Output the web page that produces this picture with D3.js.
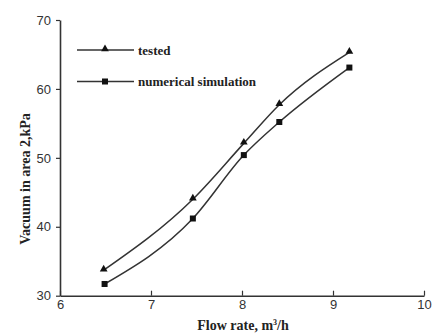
<!DOCTYPE html>
<html><head><meta charset="utf-8">
<script src="https://cdn.jsdelivr.net/npm/d3@7/dist/d3.min.js"></script>
<style>body{margin:0;background:#fff}svg{display:block}</style>
</head><body>
<svg id="c" width="437" height="333"></svg>
<script>
const flowTested = [6.48, 7.46, 8.02, 8.41, 9.18];
const vacTested  = [33.7, 44.0, 52.1, 57.7, 65.3];
const flowSim    = [6.49, 7.46, 8.02, 8.41, 9.18];
const vacSim     = [31.7, 41.2, 50.4, 55.2, 63.1];
const xTicks = [6, 7, 8, 9, 10];
const yTicks = [30, 40, 50, 60, 70];
const seriesNames = ["tested", "numerical simulation"];

const svg = d3.select("#c");
const x = d3.scaleLinear().domain([6, 10]).range([60, 424]);
const y = d3.scaleLinear().domain([30, 70]).range([295.7, 20]);
const col = "#333";

const xa = svg.append("g").attr("transform", "translate(0,295.7)")
  .call(d3.axisBottom(x).tickValues(xTicks).tickFormat(d3.format("d")).tickSizeInner(-5).tickSizeOuter(0).tickPadding(4));
const ya = svg.append("g").attr("transform", "translate(60,0)")
  .call(d3.axisLeft(y).tickValues(yTicks).tickFormat(d3.format("d")).tickSizeInner(4).tickSizeOuter(0).tickPadding(5));
[xa, ya].forEach(a => {
  a.select(".domain").attr("stroke", col).attr("stroke-width", 1.6);
  a.selectAll(".tick line").attr("stroke", col).attr("stroke-width", 1.2);
  a.selectAll("text").attr("font-family", "Liberation Sans, Arial, sans-serif").attr("font-size", 13).attr("fill", "#333");
});

const line = d3.line().x(d => x(d[0])).y(d => y(d[1])).curve(d3.curveMonotoneX);
const tData = flowTested.map((f, i) => [f, vacTested[i]]);
const sData = flowSim.map((f, i) => [f, vacSim[i]]);
[tData, sData].forEach(d => svg.append("path").datum(d).attr("d", line)
  .attr("fill", "none").attr("stroke", col).attr("stroke-width", 1.5));

const tri = d3.symbol().type(d3.symbolTriangle).size(26);
svg.selectAll(".tm").data(tData).enter().append("path")
  .attr("d", tri).attr("transform", d => `translate(${x(d[0])},${y(d[1]) - 1})`).attr("fill", "#111");
svg.selectAll(".sm").data(sData).enter().append("rect")
  .attr("x", d => x(d[0]) - 3).attr("y", d => y(d[1]) - 3).attr("width", 6).attr("height", 6).attr("fill", "#111");

// legend
const ly = [50, 81.5];
ly.forEach((yy, i) => {
  svg.append("line").attr("x1", 77).attr("x2", 134).attr("y1", yy).attr("y2", yy)
    .attr("stroke", col).attr("stroke-width", 1.5);
  if (i === 0) svg.append("path").attr("d", tri).attr("transform", `translate(105,${yy - 1})`).attr("fill", "#111");
  else svg.append("rect").attr("x", 102).attr("y", yy - 3).attr("width", 6).attr("height", 6).attr("fill", "#111");
  svg.append("text").attr("x", 138).attr("y", yy + 4.5).text(seriesNames[i])
    .attr("font-family", "Liberation Serif, Times New Roman, serif").attr("font-weight", "bold")
    .attr("font-size", 13).attr("fill", "#222");
});

svg.append("text").attr("x", 243).attr("y", 330).attr("text-anchor", "middle")
  .attr("font-family", "Liberation Serif, Times New Roman, serif").attr("font-weight", "bold")
  .attr("font-size", 14).attr("fill", "#222")
  .html('Flow rate, m<tspan dy="-5" font-size="8">3</tspan><tspan dy="5">/h</tspan>');
svg.append("text").attr("transform", "translate(30,179) rotate(-90)").attr("text-anchor", "middle")
  .attr("font-family", "Liberation Serif, Times New Roman, serif").attr("font-weight", "bold")
  .attr("font-size", 14).attr("fill", "#222").text("Vacuum in area 2,kPa");
</script>
</body></html>
